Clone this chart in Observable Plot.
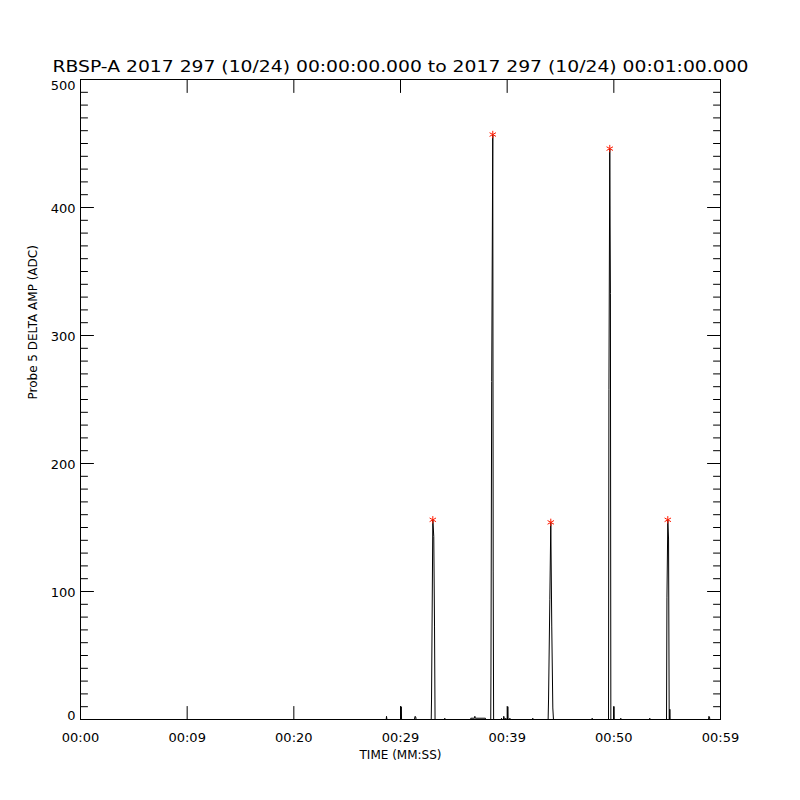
<!DOCTYPE html>
<html><head><meta charset="utf-8">
<script src="https://cdn.jsdelivr.net/npm/d3@7"></script>
<script src="https://cdn.jsdelivr.net/npm/@observablehq/plot@0.6"></script>
<style>body{margin:0;background:#fff}</style>
</head><body><div id="chart"></div>
<script>
const titleText = "RBSP-A 2017 297 (10/24) 00:00:00.000 to 2017 297 (10/24) 00:01:00.000";
const yLabel = "Probe 5 DELTA AMP (ADC)";
const xLabel = "TIME (MM:SS)";

// sample times (seconds after 00:00:00) and amplitudes (ADC)
const timeSec = [0,
  28.66,28.69,28.73,
  30.04,30.07,30.10,
  31.31,31.36,31.43,31.46,
  32.88,32.91,33.03,33.12,33.19,33.24,
  34.13,34.15,34.18,
  36.56,36.59,36.94,36.97,37.01,37.96,37.99,
  38.46,38.48,38.55,38.65,38.69,38.73,
  39.44,39.47,39.52,
  39.65,39.68,39.75,
  39.84,39.87,39.92,
  40.03,40.06,40.09,
  40.22,40.25,40.31,
  42.37,42.40,42.43,
  43.84,43.88,44.00,44.09,44.18,44.28,44.34,
  47.94,47.97,48.00,
  49.50,49.54,49.62,49.68,49.72,
  49.97,50.00,50.03,
  50.62,50.65,50.68,
  53.34,53.37,53.40,
  54.94,54.98,55.06,55.13,55.19,
  55.22,55.25,55.28,
  58.88,58.91,58.97,59.00,
  60];
const ampAdc = [0,
  0,2.5,0,
  0,10,0,
  0,2.5,2,0,
  0,16,156,143,73,0,
  0,1,0,
  0,1,1,2.5,1,1,0,
  0,34,264,457,116,0,
  0,1,0,
  0,2.5,0,
  0,1,0,
  0,10,0,
  0,1,0,
  0,1,0,
  0,16,94,154,73,9,0,
  0,1,0,
  0,258,446,333,0,
  0,10,0,
  0,1,0,
  0,1,0,
  0,95,156,141,0,
  0,8,0,
  0,2.5,2,0,
  0];

const peakTimeSec = [33.03, 38.65, 44.09, 49.62, 55.06];
const peakAmp = [156, 457, 154, 446, 156];

const xTicks = [0, 10, 20, 30, 40, 50, 60];
const xTickLabels = ["00:00","00:09","00:20","00:29","00:39","00:50","00:59"];
const yTicks = [0, 100, 200, 300, 400, 500];
const yMinorTicks = d3.range(0, 501, 10).filter(v => v % 100 !== 0);

const series = timeSec.map((t, i) => ({t, v: ampAdc[i]}));
const peaks = peakTimeSec.map((t, i) => ({t, v: peakAmp[i]}));

const shapeRight = {draw(c, l) { c.moveTo(0, 0); c.lineTo(l, 0); }};
const shapeLeft  = {draw(c, l) { c.moveTo(0, 0); c.lineTo(-l, 0); }};
const shapeUp    = {draw(c, l) { c.moveTo(0, 0); c.lineTo(0, -l); }};
const shapeDown  = {draw(c, l) { c.moveTo(0, 0); c.lineTo(0, l); }};
const tk = {stroke: "black", strokeWidth: 1, anchor: "start"};
const yMid = yTicks.slice(1, -1);
const yAx = {tickSize: 0, tickPadding: 5, label: null};

const chart = Plot.plot({
  width: 800, height: 800,
  marginTop: 79, marginBottom: 81, marginLeft: 80, marginRight: 80,
  style: {fontFamily: "DejaVu Sans", fontSize: "13px", color: "black", background: "white"},
  x: {domain: [0, 60]},
  y: {domain: [0, 500]},
  marks: [
    Plot.line(series, {x: "t", y: "v", stroke: "black", strokeWidth: 1}),
    Plot.dot(peaks, {x: "t", y: "v", symbol: "asterisk", r: 3.5, stroke: "#ff1a00", strokeWidth: 1}),
    Plot.frame({stroke: "black", strokeWidth: 1}),
    // ticks inward on all four sides
    Plot.vector(yTicks, {y: d => d, frameAnchor: "left", length: 13, shape: shapeRight, ...tk}),
    Plot.vector(yMinorTicks, {y: d => d, frameAnchor: "left", length: 7, shape: shapeRight, ...tk}),
    Plot.vector(yTicks, {y: d => d, frameAnchor: "right", length: 13, shape: shapeLeft, ...tk}),
    Plot.vector(yMinorTicks, {y: d => d, frameAnchor: "right", length: 7, shape: shapeLeft, ...tk}),
    Plot.vector(xTicks, {x: d => d, frameAnchor: "bottom", length: 13, shape: shapeUp, ...tk}),
    Plot.vector(xTicks, {x: d => d, frameAnchor: "top", length: 13, shape: shapeDown, ...tk}),
    Plot.axisX({ticks: xTicks, tickFormat: d => xTickLabels[xTicks.indexOf(d)], tickSize: 0, tickPadding: 13, label: null}),
    Plot.axisY({ticks: yMid, ...yAx, dy: 1}),
    Plot.axisY({ticks: [yTicks[0]], ...yAx, dy: -4}),
    Plot.axisY({ticks: [yTicks[yTicks.length - 1]], ...yAx, dy: 6}),
    Plot.text([titleText], {text: d => d, frameAnchor: "top", lineAnchor: "bottom", dy: -8, fontSize: 16}),
    Plot.text([yLabel], {text: d => d, frameAnchor: "left", rotate: -90, dx: -47, fontSize: 12}),
    Plot.text([xLabel], {text: d => d, frameAnchor: "bottom", dy: 39, fontSize: 12})
  ]
});
chart.querySelectorAll("text").forEach(el => {
  if (el.textContent === titleText) {
    el.setAttribute("textLength", 696);
    el.setAttribute("lengthAdjust", "spacingAndGlyphs");
  }
});
document.getElementById("chart").appendChild(chart);
</script>
</body></html>
